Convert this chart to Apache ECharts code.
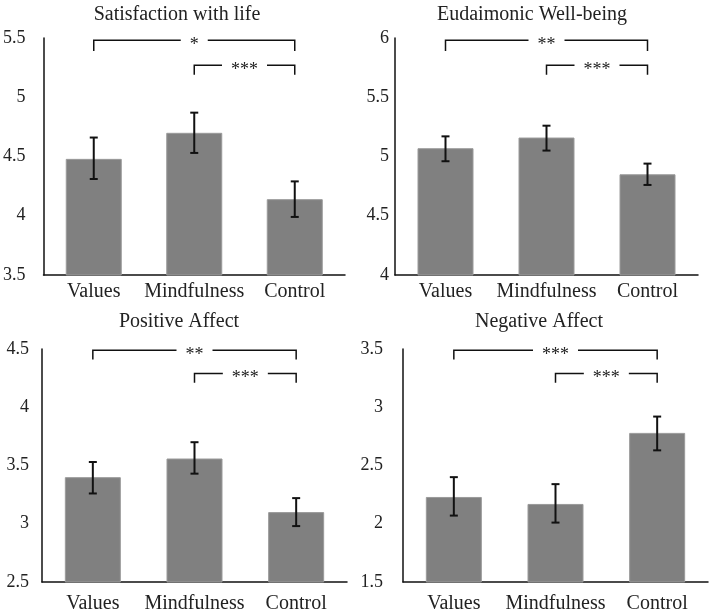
<!DOCTYPE html>
<html>
<head>
<meta charset="utf-8">
<script src="https://cdn.jsdelivr.net/npm/echarts@6/dist/echarts.min.js"></script>
<style>
  html, body { margin: 0; padding: 0; background: #fff; }
  #chart { width: 709px; height: 614px; }
</style>
</head>
<body>
<div id="chart"></div>
<script>
const categories = ['Values', 'Mindfulness', 'Control'];
const panelTitles = ['Satisfaction with life', 'Eudaimonic Well-being', 'Positive Affect', 'Negative Affect'];

// means and error bar ends
const satMeans = [4.48, 4.70, 4.14];
const satLow = [4.31, 4.53, 3.99];
const satHigh = [4.66, 4.87, 4.29];

const eudMeans = [5.07, 5.16, 4.85];
const eudLow = [4.96, 5.05, 4.76];
const eudHigh = [5.17, 5.26, 4.94];

const posMeans = [3.40, 3.56, 3.10];
const posLow = [3.26, 3.43, 2.98];
const posHigh = [3.53, 3.70, 3.22];

const negMeans = [2.23, 2.17, 2.78];
const negLow = [2.07, 2.01, 2.63];
const negHigh = [2.40, 2.34, 2.92];

const yMins = [3.5, 4, 2.5, 1.5];
const yMaxs = [5.5, 6, 4.5, 3.5];

// brackets: [from category, to category, line value, tick end value, label]
const satBrackets = [[0, 2, 5.48, 5.39, '*'], [1, 2, 5.27, 5.19, '***']];
const eudBrackets = [[0, 2, 5.98, 5.89, '**'], [1, 2, 5.77, 5.69, '***']];
const posBrackets = [[0, 2, 4.49, 4.41, '**'], [1, 2, 4.29, 4.21, '***']];
const negBrackets = [[0, 2, 3.49, 3.41, '***'], [1, 2, 3.29, 3.21, '***']];

const means = [satMeans, eudMeans, posMeans, negMeans];
const lows = [satLow, eudLow, posLow, negLow];
const highs = [satHigh, eudHigh, posHigh, negHigh];
const brackets = [satBrackets, eudBrackets, posBrackets, negBrackets];

const serif = '"Liberation Serif", "Times New Roman", serif';

const grids = [
  { left: 40, top: 38, width: 305, height: 237 },
  { left: 395, top: 38, width: 303, height: 237 },
  { left: 42, top: 349, width: 305, height: 234 },
  { left: 403, top: 349, width: 305, height: 235 }
];
const titlePos = [[172, 0], [527, 0], [174, 307], [534, 307]];
const ylabelMargin = [18, 6, 13, 20];
const xlabelMargin = [7, 7, 12, 12];

const option = {
  animation: false,
  backgroundColor: '#fff',
  title: panelTitles.map((t, i) => ({
    text: t,
    left: titlePos[i][0],
    top: titlePos[i][1],
    textAlign: 'center',
    textStyle: { fontFamily: serif, fontSize: 20, fontWeight: 'normal', color: '#222' }
  })),
  grid: grids,
  xAxis: grids.map((g, i) => ({
    type: 'category',
    gridIndex: i,
    data: categories,
    axisLine: { lineStyle: { color: '#111', width: 1.5 } },
    axisTick: { show: false },
    axisLabel: { interval: 0, fontFamily: serif, fontSize: 20, color: '#222', margin: xlabelMargin[i] }
  })),
  yAxis: grids.map((g, i) => ({
    type: 'value',
    gridIndex: i,
    min: yMins[i],
    max: yMaxs[i],
    interval: 0.5,
    axisLine: { show: true, lineStyle: { color: '#111', width: 1.5 } },
    axisTick: { show: false },
    splitLine: { show: false },
    axisLabel: { fontFamily: serif, fontSize: 18, color: '#222', margin: ylabelMargin[i] }
  })),
  series: []
};

means.forEach((m, i) => {
  option.series.push({
    type: 'bar',
    xAxisIndex: i,
    yAxisIndex: i,
    data: m,
    barWidth: 56,
    itemStyle: { color: '#808080', borderColor: '#9a9a9a', borderWidth: 1 }
  });
  option.series.push({
    type: 'custom',
    xAxisIndex: i,
    yAxisIndex: i,
    data: categories.map((c, k) => [k, lows[i][k], highs[i][k]]),
    encode: { x: 0, y: [1, 2] },
    renderItem: function (params, api) {
      const lo = api.coord([api.value(0), api.value(1)]);
      const hi = api.coord([api.value(0), api.value(2)]);
      const cap = 4;
      const st = { stroke: '#111', lineWidth: 2 };
      return {
        type: 'group',
        children: [
          { type: 'line', shape: { x1: lo[0], y1: lo[1], x2: hi[0], y2: hi[1] }, style: st },
          { type: 'line', shape: { x1: lo[0] - cap, y1: lo[1], x2: lo[0] + cap, y2: lo[1] }, style: st },
          { type: 'line', shape: { x1: hi[0] - cap, y1: hi[1], x2: hi[0] + cap, y2: hi[1] }, style: st }
        ]
      };
    },
    z: 5
  });
  option.series.push({
    type: 'custom',
    xAxisIndex: i,
    yAxisIndex: i,
    data: brackets[i],
    encode: { x: [0, 1], y: [2, 3] },
    clip: false,
    renderItem: function (params, api) {
      const a = api.coord([api.value(0), api.value(2)]);
      const b = api.coord([api.value(1), api.value(2)]);
      const t = api.coord([api.value(0), api.value(3)]);
      const label = brackets[i][params.dataIndex][4];
      return {
        type: 'group',
        children: [
          {
            type: 'polyline',
            shape: { points: [[a[0], t[1]], [a[0], a[1]], [b[0], b[1]], [b[0], t[1]]] },
            style: { stroke: '#111', lineWidth: 1.5, fill: null }
          },
          {
            type: 'text',
            x: (a[0] + b[0]) / 2,
            y: a[1] + 5,
            style: {
              text: label,
              fontFamily: serif,
              fontSize: 18,
              fill: '#222',
              align: 'center',
              verticalAlign: 'middle',
              backgroundColor: '#fff',
              padding: [0, 9]
            }
          }
        ]
      };
    },
    z: 6
  });
});

const myChart = echarts.init(document.getElementById('chart'));
myChart.setOption(option);
</script>
</body>
</html>
